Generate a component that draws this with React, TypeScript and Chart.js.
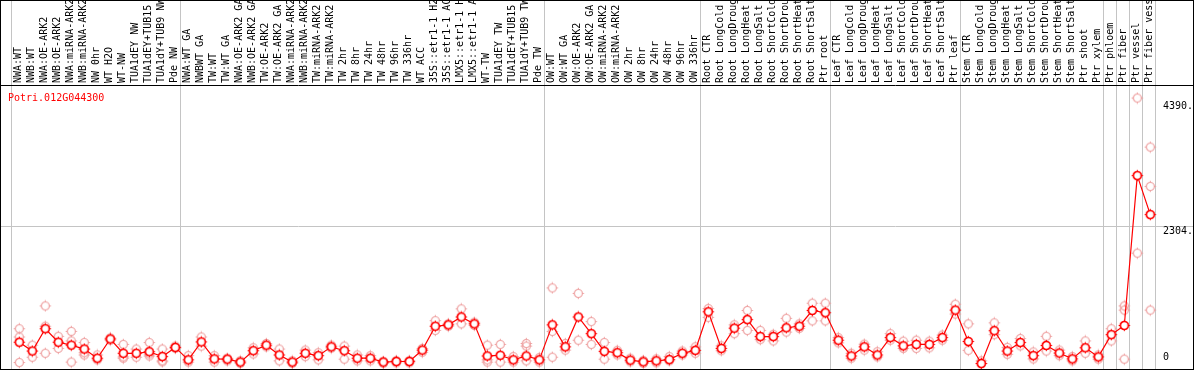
import React, { useEffect, useRef } from 'react';
import { Chart, registerables } from 'chart.js';

Chart.register(...registerables);

const geneId = 'Potri.012G044300';

const categories = [
  'NWA:WT', 'NWB:WT', 'NWA:OE-ARK2', 'NWB:OE-ARK2', 'NWA:miRNA-ARK2', 'NWB:miRNA-ARK2', 'NW 0hr', 'WT H2O', 'WT-NW',
  'TUA1dEY NW', 'TUA1dEY+TUB15 NW', 'TUA1dY+TUB9 NW', 'Pde NW',
  'NWA:WT GA', 'NWBWT GA', 'TW:WT', 'TW:WT GA', 'NWA:OE-ARK2 GA', 'NWB:OE-ARK2 GA', 'TW:OE-ARK2', 'TW:OE-ARK2 GA',
  'NWA:miRNA-ARK2', 'NWB:miRNA-ARK2', 'TW:miRNA-ARK2', 'TW:miRNA-ARK2', 'TW 2hr', 'TW 8hr', 'TW 24hr', 'TW 48hr',
  'TW 96hr', 'TW 336hr', 'WT ACC', '35S::etr1-1 H2O', '35S::etr1-1 ACC', 'LMX5::etr1-1 H2O', 'LMX5::etr1-1 ACC',
  'WT-TW', 'TUA1dEY TW', 'TUA1dEY+TUB15 TW', 'TUA1dY+TUB9 TW', 'Pde TW',
  'OW:WT', 'OW:WT GA', 'OW:OE-ARK2', 'OW:OE-ARK2 GA', 'OW:miRNA-ARK2', 'OW:miRNA-ARK2', 'OW 2hr', 'OW 8hr',
  'OW 24hr', 'OW 48hr', 'OW 96hr', 'OW 336hr',
  'Root CTR', 'Root LongCold', 'Root LongDrought', 'Root LongHeat', 'Root LongSalt', 'Root ShortCold',
  'Root ShortDrought', 'Root ShortHeat', 'Root ShortSalt', 'Ptr root',
  'Leaf CTR', 'Leaf LongCold', 'Leaf LongDrought', 'Leaf LongHeat', 'Leaf LongSalt', 'Leaf ShortCold',
  'Leaf ShortDrought', 'Leaf ShortHeat', 'Leaf ShortSalt', 'Ptr leaf',
  'Stem CTR', 'Stem LongCold', 'Stem LongDrought', 'Stem LongHeat', 'Stem LongSalt', 'Stem ShortCold',
  'Stem ShortDrought', 'Stem ShortHeat', 'Stem ShortSalt', 'Ptr shoot', 'Ptr xylem',
  'Ptr phloem', 'Ptr fiber', 'Ptr vessel', 'Ptr fiber vessel',
];

const meanValues = [
  360, 213, 585, 360, 311, 246, 93, 414, 175, 175, 201, 120, 273,
  66, 365, 82, 77, 28, 218, 311, 147, 28, 175, 136, 283, 218, 93, 93, 28, 38, 38, 229, 627, 650, 781, 666,
  131, 142, 66, 131, 66,
  650, 283, 781, 503, 208, 185, 61, 33, 49, 70, 175, 224,
  868, 257, 594, 737, 454, 454, 601, 627, 889, 852,
  393, 131, 283, 147, 437, 300, 323, 323, 437, 896,
  372, 5, 552, 213, 355, 136, 306, 180, 82, 267, 115,
  486, 639, 3139, 2489,
];

const replicate1 = [
  585, 311, 966, 458, 540, 355, 147, 431, 323, 246, 355, 246, 295,
  136, 447, 136, 93, 49, 267, 339, 246, 49, 229, 185, 311, 295, 147, 136, 41, 57, 57, 257, 720, 666, 917, 693,
  311, 323, 120, 339, 103,
  1266, 339, 1174, 704, 355, 224, 93, 57, 82, 120, 213, 283,
  922, 300, 650, 889, 557, 491, 758, 666, 1010, 1010,
  437, 175, 328, 201, 503, 377, 393, 377, 480, 994,
  666, 49, 683, 273, 421, 197, 458, 229, 120, 382, 147,
  585, 966, 4433, 3614,
];

const replicate2 = [
  447, 110, 627, 257, 382, 147, 66, 393, 93, 110, 131, 49, 257,
  28, 295, 28, 49, 8, 164, 283, 49, 8, 120, 66, 262, 77, 49, 49, 8, 16, 16, 192, 557, 627, 666, 639,
  28, 28, 28, 295, 28,
  540, 229, 393, 323, 77, 147, 33, 8, 16, 49, 147, 175,
  775, 218, 503, 557, 404, 382, 529, 590, 716, 716,
  349, 93, 229, 115, 393, 257, 257, 267, 393, 830,
  224, 3, 486, 159, 300, 82, 213, 136, 49, 175, 77,
  382, 896, 1845, 2959,
];

const replicate3 = [
  21, null, 175, null, 28, 185, null, null, 115, null, 164, 33, null,
  null, null, null, null, null, null, null, null, null, null, null, null, null, null, null, null, null, null, null, null, null, null, null,
  66, null, null, 49, null,
  110, null, null, null, null, null, null, null, null, null, null, null,
  null, null, null, null, null, null, null, null, null, null,
  null, null, null, null, null, null, null, null, null, null,
  null, null, null, null, null, null, null, null, null, null, null,
  null, 77, null, 896,
];

const groupStarts = [0, 13, 41, 53, 63, 73, 84, 85, 86, 87, 88];
const gridValues = [2304];
const axisTicks = [0, 2304, 4390];
const axisTickLabels = ['0', '2304.', '4390.'];
const yMax = 4650;

const FONT = '10px "DejaVu Sans Mono", "Liberation Mono", monospace';
const W = 1194;
const H = 370;
const PLOT_BOTTOM = 369;
const HEADER = 85;

function makeMarker(color: string, lw: number, fill: string | null) {
  const c = document.createElement('canvas');
  c.width = 13;
  c.height = 13;
  const g = c.getContext('2d')!;
  g.strokeStyle = color;
  g.lineWidth = lw;
  g.beginPath();
  g.arc(6.5, 6.5, 4, 0, Math.PI * 2);
  if (fill) {
    g.fillStyle = fill;
    g.fill();
  }
  g.stroke();
  g.lineWidth = 1;
  g.beginPath();
  g.moveTo(6.5, 0.8); g.lineTo(6.5, 2.2);
  g.moveTo(6.5, 10.8); g.lineTo(6.5, 12.2);
  g.moveTo(0.8, 6.5); g.lineTo(2.2, 6.5);
  g.moveTo(10.8, 6.5); g.lineTo(12.2, 6.5);
  g.stroke();
  return c;
}

const framePlugin = {
  id: 'framePlugin',
  beforeDatasetsDraw(chart: any) {
    const { ctx } = chart;
    const x = chart.scales.x;
    const y = chart.scales.y;
    const slot = x.getPixelForValue(1) - x.getPixelForValue(0);
    ctx.save();
    ctx.strokeStyle = '#c4c4c4';
    ctx.lineWidth = 1;
    ctx.beginPath();
    groupStarts.forEach((k) => {
      const px = Math.round(x.getPixelForValue(0) + (k - 0.5) * slot - 1.5) + 0.5;
      ctx.moveTo(px, 0);
      ctx.lineTo(px, PLOT_BOTTOM);
    });
    gridValues.forEach((v) => {
      const py = Math.round(y.getPixelForValue(v)) + 0.5;
      ctx.moveTo(0, py);
      ctx.lineTo(W, py);
    });
    ctx.stroke();
    ctx.restore();
  },
  afterDraw(chart: any) {
    const { ctx } = chart;
    const x = chart.scales.x;
    const y = chart.scales.y;
    ctx.save();
    ctx.strokeStyle = '#000';
    ctx.lineWidth = 1;
    ctx.strokeRect(0.5, 0.5, W - 1, PLOT_BOTTOM);
    ctx.beginPath();
    ctx.moveTo(0, HEADER + 0.5);
    ctx.lineTo(W, HEADER + 0.5);
    ctx.stroke();

    ctx.save();
    ctx.beginPath();
    ctx.rect(1, 1, W - 2, HEADER - 1);
    ctx.clip();
    ctx.fillStyle = '#000';
    ctx.font = FONT;
    ctx.textAlign = 'left';
    ctx.textBaseline = 'middle';
    categories.forEach((lab, i) => {
      const px = x.getPixelForValue(i) - 0.5;
      ctx.save();
      ctx.translate(px, HEADER - 2);
      ctx.rotate(-Math.PI / 2);
      ctx.fillText(lab, 0, 0);
      ctx.restore();
    });
    ctx.restore();

    ctx.fillStyle = '#000';
    ctx.font = FONT;
    ctx.textAlign = 'left';
    axisTicks.forEach((v, i) => {
      const py = y.getPixelForValue(v);
      if (py > PLOT_BOTTOM - 8) {
        ctx.textBaseline = 'bottom';
        ctx.fillText(axisTickLabels[i], 1163, py - 1);
      } else {
        ctx.textBaseline = 'top';
        ctx.fillText(axisTickLabels[i], 1163, py + 1);
      }
    });

    ctx.fillStyle = '#ff0000';
    ctx.textBaseline = 'top';
    ctx.fillText(geneId, 8, 93);
    ctx.restore();
  },
};

export default function App() {
  const ref = useRef<HTMLCanvasElement | null>(null);
  useEffect(() => {
    document.body.style.margin = '0';
    const canvas = ref.current!;
    const meanMarker = makeMarker('#ff0000', 1.7, '#ffffff');
    const repMarker = makeMarker('#eea0a0', 1.2, null);
    const repDataset = (data: (number | null)[], name: string) => ({
      label: name,
      data,
      showLine: false,
      pointStyle: repMarker,
      pointRadius: 5,
      borderColor: '#eea0a0',
      backgroundColor: 'transparent',
      clip: false,
    });
    const chart = new Chart(canvas, {
      type: 'line',
      data: {
        labels: categories,
        datasets: [
          {
            label: 'mean',
            data: meanValues,
            borderColor: '#ff0000',
            borderWidth: 1.2,
            pointStyle: meanMarker,
            pointRadius: 5,
            backgroundColor: 'transparent',
            tension: 0,
            clip: false,
          },
          repDataset(replicate1, 'rep1'),
          repDataset(replicate2, 'rep2'),
          repDataset(replicate3, 'rep3'),
        ] as any,
      },
      options: {
        animation: false,
        responsive: false,
        devicePixelRatio: 1,
        layout: { padding: { left: 12.8, right: W - 1156.8, top: HEADER, bottom: H - PLOT_BOTTOM } },
        plugins: { legend: { display: false }, tooltip: { enabled: false }, title: { display: false } },
        scales: {
          x: { type: 'category', offset: true, display: false },
          y: { type: 'linear', min: 0, max: yMax, display: false },
        },
      },
      plugins: [framePlugin],
    });
    return () => chart.destroy();
  }, []);
  return (
    <div style={{ position: 'absolute', left: 0, top: 0, width: W, height: H, background: '#fff' }}>
      <canvas ref={ref} width={W} height={H} style={{ display: 'block', width: W, height: H }} />
    </div>
  );
}
